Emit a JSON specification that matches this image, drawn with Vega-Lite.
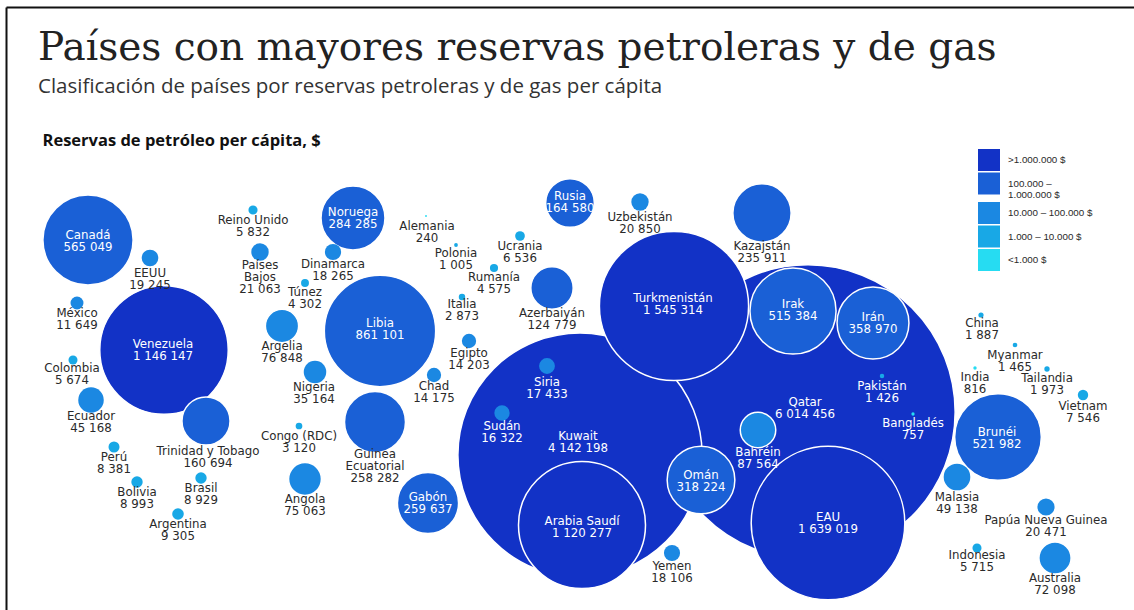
{
  "$schema": "https://vega.github.io/schema/vega-lite/v6.json",
  "width": 1128,
  "height": 603,
  "autosize": {"type": "none"},
  "padding": {"left": 6, "top": 7, "right": 0, "bottom": 0},
  "background": "white",
  "title": {
    "text": "Países con mayores reservas petroleras y de gas",
    "subtitle": "Clasificación de países por reservas petroleras y de gas per cápita",
    "anchor": "start",
    "frame": "group",
    "dx": 32,
    "offset": -90,
    "font": "DejaVu Serif",
    "fontSize": 39,
    "fontWeight": "normal",
    "color": "#222222",
    "subtitleFont": "Open Sans",
    "subtitleFontSize": 20.5,
    "subtitleColor": "#333333",
    "subtitlePadding": 9
  },
  "config": {
    "view": {"stroke": null},
    "locale": {"number": {"decimal": ",", "thousands": " ", "grouping": [3], "currency": ["", " $"]}},
    "axis": {"domain": true, "domainColor": "#111111", "domainWidth": 2, "ticks": false, "labels": false, "grid": false}
  },
  "data": {
    "values": [
      {"pais": "Qatar", "valor": 6014456, "rango": ">1.000.000 $", "x": 808, "y": 412, "lx": 805, "ly": 396.5, "texto": "dentro"},
      {"pais": "Kuwait", "valor": 4142198, "rango": ">1.000.000 $", "x": 580, "y": 455, "lx": 578, "ly": 430.5, "texto": "dentro"},
      {"pais": "EAU", "valor": 1639019, "rango": ">1.000.000 $", "x": 828, "y": 523, "lx": 828, "ly": 512, "texto": "dentro"},
      {"pais": "Turkmenistán", "valor": 1545314, "rango": ">1.000.000 $", "x": 674, "y": 306, "lx": 673, "ly": 292.5, "texto": "dentro"},
      {"pais": "Venezuela", "valor": 1146147, "rango": ">1.000.000 $", "x": 164, "y": 350, "lx": 163, "ly": 339, "texto": "dentro"},
      {"pais": "Arabia Saudí", "valor": 1120277, "rango": ">1.000.000 $", "x": 582, "y": 525, "lx": 582, "ly": 516, "texto": "dentro"},
      {"pais": "Libia", "valor": 861101, "rango": "100.000 – 1.000.000 $", "x": 380, "y": 331, "lx": 380, "ly": 317.5, "texto": "dentro"},
      {"pais": "Canadá", "valor": 565049, "rango": "100.000 – 1.000.000 $", "x": 88, "y": 240, "lx": 88, "ly": 230, "texto": "dentro"},
      {"pais": "Brunéi", "valor": 521982, "rango": "100.000 – 1.000.000 $", "x": 998, "y": 437, "lx": 997, "ly": 426.5, "texto": "dentro"},
      {"pais": "Irak", "valor": 515384, "rango": "100.000 – 1.000.000 $", "x": 793, "y": 311, "lx": 793, "ly": 298.5, "texto": "dentro"},
      {"pais": "Irán", "valor": 358970, "rango": "100.000 – 1.000.000 $", "x": 873, "y": 323, "lx": 873, "ly": 311.5, "texto": "dentro"},
      {"pais": "Omán", "valor": 318224, "rango": "100.000 – 1.000.000 $", "x": 701, "y": 480, "lx": 701, "ly": 470, "texto": "dentro"},
      {"pais": "Noruega", "valor": 284285, "rango": "100.000 – 1.000.000 $", "x": 353, "y": 218, "lx": 353, "ly": 207, "texto": "dentro"},
      {"pais": "Gabón", "valor": 259637, "rango": "100.000 – 1.000.000 $", "x": 428, "y": 503, "lx": 428, "ly": 492, "texto": "dentro"},
      {"pais": "Guinea\nEcuatorial", "valor": 258282, "rango": "100.000 – 1.000.000 $", "x": 375, "y": 422, "lx": 375, "ly": 449, "texto": "fuera"},
      {"pais": "Kazajstán", "valor": 235911, "rango": "100.000 – 1.000.000 $", "x": 762, "y": 213, "lx": 762, "ly": 241, "texto": "fuera"},
      {"pais": "Rusia", "valor": 164580, "rango": "100.000 – 1.000.000 $", "x": 570, "y": 203, "lx": 570, "ly": 190.5, "texto": "dentro"},
      {"pais": "Trinidad y Tobago", "valor": 160694, "rango": "100.000 – 1.000.000 $", "x": 206, "y": 421, "lx": 208, "ly": 446, "texto": "fuera"},
      {"pais": "Azerbaiyán", "valor": 124779, "rango": "100.000 – 1.000.000 $", "x": 552, "y": 288, "lx": 552, "ly": 307.5, "texto": "fuera"},
      {"pais": "Bahréin", "valor": 87564, "rango": "10.000 – 100.000 $", "x": 758, "y": 430, "lx": 758, "ly": 446.5, "texto": "dentro"},
      {"pais": "Argelia", "valor": 76848, "rango": "10.000 – 100.000 $", "x": 282, "y": 326, "lx": 282, "ly": 341, "texto": "fuera"},
      {"pais": "Angola", "valor": 75063, "rango": "10.000 – 100.000 $", "x": 305, "y": 479, "lx": 305, "ly": 493.5, "texto": "fuera"},
      {"pais": "Australia", "valor": 72098, "rango": "10.000 – 100.000 $", "x": 1055, "y": 558, "lx": 1055, "ly": 573, "texto": "fuera"},
      {"pais": "Malasia", "valor": 49138, "rango": "10.000 – 100.000 $", "x": 957, "y": 477, "lx": 957, "ly": 491.5, "texto": "fuera"},
      {"pais": "Ecuador", "valor": 45168, "rango": "10.000 – 100.000 $", "x": 91, "y": 400, "lx": 91, "ly": 410.5, "texto": "fuera"},
      {"pais": "Nigeria", "valor": 35164, "rango": "10.000 – 100.000 $", "x": 315, "y": 372, "lx": 314, "ly": 382, "texto": "fuera"},
      {"pais": "Países\nBajos", "valor": 21063, "rango": "10.000 – 100.000 $", "x": 260, "y": 252, "lx": 260, "ly": 260, "texto": "fuera"},
      {"pais": "Uzbekistán", "valor": 20850, "rango": "10.000 – 100.000 $", "x": 640, "y": 202, "lx": 640, "ly": 211.5, "texto": "fuera"},
      {"pais": "Papúa Nueva Guinea", "valor": 20471, "rango": "10.000 – 100.000 $", "x": 1046, "y": 507, "lx": 1046, "ly": 515, "texto": "fuera"},
      {"pais": "EEUU", "valor": 19245, "rango": "10.000 – 100.000 $", "x": 150, "y": 258, "lx": 150, "ly": 268, "texto": "fuera"},
      {"pais": "Dinamarca", "valor": 18265, "rango": "10.000 – 100.000 $", "x": 333, "y": 252, "lx": 333, "ly": 258.5, "texto": "fuera"},
      {"pais": "Yemen", "valor": 18106, "rango": "10.000 – 100.000 $", "x": 672, "y": 553, "lx": 672, "ly": 560.5, "texto": "fuera"},
      {"pais": "Siria", "valor": 17433, "rango": "10.000 – 100.000 $", "x": 547, "y": 366, "lx": 547, "ly": 376.5, "texto": "dentro"},
      {"pais": "Sudán", "valor": 16322, "rango": "10.000 – 100.000 $", "x": 502, "y": 413, "lx": 502, "ly": 421, "texto": "dentro"},
      {"pais": "Egipto", "valor": 14203, "rango": "10.000 – 100.000 $", "x": 469, "y": 341, "lx": 469, "ly": 347.5, "texto": "fuera"},
      {"pais": "Chad", "valor": 14175, "rango": "10.000 – 100.000 $", "x": 434, "y": 375, "lx": 434, "ly": 381, "texto": "fuera"},
      {"pais": "México", "valor": 11649, "rango": "10.000 – 100.000 $", "x": 77, "y": 303, "lx": 77, "ly": 307.5, "texto": "fuera"},
      {"pais": "Argentina", "valor": 9305, "rango": "1.000 – 10.000 $", "x": 178, "y": 514, "lx": 178, "ly": 519, "texto": "fuera"},
      {"pais": "Bolivia", "valor": 8993, "rango": "1.000 – 10.000 $", "x": 137, "y": 482, "lx": 137, "ly": 486.5, "texto": "fuera"},
      {"pais": "Brasil", "valor": 8929, "rango": "1.000 – 10.000 $", "x": 201, "y": 478, "lx": 201, "ly": 483, "texto": "fuera"},
      {"pais": "Perú", "valor": 8381, "rango": "1.000 – 10.000 $", "x": 114, "y": 447, "lx": 114, "ly": 452, "texto": "fuera"},
      {"pais": "Vietnam", "valor": 7546, "rango": "1.000 – 10.000 $", "x": 1083, "y": 395, "lx": 1083, "ly": 400.5, "texto": "fuera"},
      {"pais": "Ucrania", "valor": 6536, "rango": "1.000 – 10.000 $", "x": 520, "y": 236, "lx": 520, "ly": 240.5, "texto": "fuera"},
      {"pais": "Reino Unido", "valor": 5832, "rango": "1.000 – 10.000 $", "x": 253, "y": 210, "lx": 253, "ly": 214.5, "texto": "fuera"},
      {"pais": "Indonesia", "valor": 5715, "rango": "1.000 – 10.000 $", "x": 977, "y": 548, "lx": 977, "ly": 550, "texto": "fuera"},
      {"pais": "Colombia", "valor": 5674, "rango": "1.000 – 10.000 $", "x": 73, "y": 360, "lx": 72, "ly": 362.5, "texto": "fuera"},
      {"pais": "Rumanía", "valor": 4575, "rango": "1.000 – 10.000 $", "x": 494, "y": 268, "lx": 494, "ly": 272, "texto": "fuera"},
      {"pais": "Túnez", "valor": 4302, "rango": "1.000 – 10.000 $", "x": 305, "y": 283, "lx": 305, "ly": 286.5, "texto": "fuera"},
      {"pais": "Congo (RDC)", "valor": 3120, "rango": "1.000 – 10.000 $", "x": 299, "y": 426, "lx": 299, "ly": 430.5, "texto": "fuera"},
      {"pais": "Italia", "valor": 2873, "rango": "1.000 – 10.000 $", "x": 462, "y": 297, "lx": 462, "ly": 299, "texto": "fuera"},
      {"pais": "Tailandia", "valor": 1973, "rango": "1.000 – 10.000 $", "x": 1047, "y": 369, "lx": 1047, "ly": 372.5, "texto": "fuera"},
      {"pais": "China", "valor": 1887, "rango": "1.000 – 10.000 $", "x": 981, "y": 315, "lx": 982, "ly": 317.5, "texto": "fuera"},
      {"pais": "Myanmar", "valor": 1465, "rango": "1.000 – 10.000 $", "x": 1015, "y": 345, "lx": 1015, "ly": 349.5, "texto": "fuera"},
      {"pais": "Pakistán", "valor": 1426, "rango": "1.000 – 10.000 $", "x": 882, "y": 376, "lx": 882, "ly": 381, "texto": "dentro"},
      {"pais": "Polonia", "valor": 1005, "rango": "1.000 – 10.000 $", "x": 456, "y": 245, "lx": 456, "ly": 247.5, "texto": "fuera"},
      {"pais": "India", "valor": 816, "rango": "<1.000 $", "x": 975, "y": 368, "lx": 975, "ly": 371.5, "texto": "fuera"},
      {"pais": "Bangladés", "valor": 757, "rango": "<1.000 $", "x": 913, "y": 414, "lx": 913, "ly": 417.5, "texto": "dentro"},
      {"pais": "Alemania", "valor": 240, "rango": "<1.000 $", "x": 426, "y": 216, "lx": 427, "ly": 220.5, "texto": "fuera"}
    ]
  },
  "layer": [
    {
      "mark": {"type": "circle", "opacity": 1, "stroke": "white"},
      "encoding": {
        "x": {"field": "x", "type": "quantitative", "scale": {"domain": [6, 1134], "nice": false, "zero": false},
              "axis": {"orient": "top", "title": "Reservas de petróleo per cápita, $", "titleX": 36, "titleY": 138, "titleAlign": "left", "titleAnchor": null, "titleBaseline": "alphabetic", "titleFont": "Open Sans", "titleFontSize": 16.5, "titleFontWeight": "bold", "titleColor": "#111111"}},
        "y": {"field": "y", "type": "quantitative", "scale": {"domain": [7, 610], "nice": false, "zero": false, "reverse": true},
              "axis": {"orient": "left", "title": null}},
        "size": {"field": "valor", "type": "quantitative", "scale": {"type": "linear", "domain": [0, 6014456], "range": [0, 86608]}, "legend": null},
        "strokeWidth": {"condition": {"test": "datum.valor < 50000", "value": 0}, "value": 1.5},
        "color": {"field": "rango", "type": "nominal",
                  "scale": {"domain": [">1.000.000 $", "100.000 – 1.000.000 $", "10.000 – 100.000 $", "1.000 – 10.000 $", "<1.000 $"],
                            "range": ["#1232c6", "#1a60d6", "#1b88e2", "#18a8e6", "#26dcf2"]},
                  "legend": {"title": null, "orient": "none", "legendX": 972, "legendY": 142, "symbolType": "square", "symbolSize": 484, "symbolStrokeWidth": 0, "symbolOpacity": 1, "rowPadding": 1.5, "padding": 0, "labelFont": "Liberation Sans", "labelFontSize": 9.8, "labelColor": "#2a2a2a", "labelOffset": 8, "labelLimit": 200,
                             "labelExpr": "datum.label === '100.000 – 1.000.000 $' ? ['100.000 –', '1.000.000 $'] : datum.label"}},
        "order": {"field": "valor", "type": "quantitative", "sort": "descending"}
      }
    },
    {
      "mark": {"type": "text", "font": "DejaVu Sans", "fontSize": 11.8, "lineHeight": 12, "baseline": "top", "align": "center", "lineBreak": "\n",
               "text": {"expr": "datum.pais + '\\n' + replace(format(datum.valor, ',d'), /,/g, ' ')"}},
      "encoding": {
        "x": {"field": "lx", "type": "quantitative", "axis": {"orient": "top", "title": "Reservas de petróleo per cápita, $"}},
        "y": {"field": "ly", "type": "quantitative", "axis": {"orient": "left", "title": null}},
        "color": {"condition": {"test": "datum.texto === 'dentro'", "value": "#ffffff"}, "value": "#2a2a2a"}
      }
    }
  ]
}
